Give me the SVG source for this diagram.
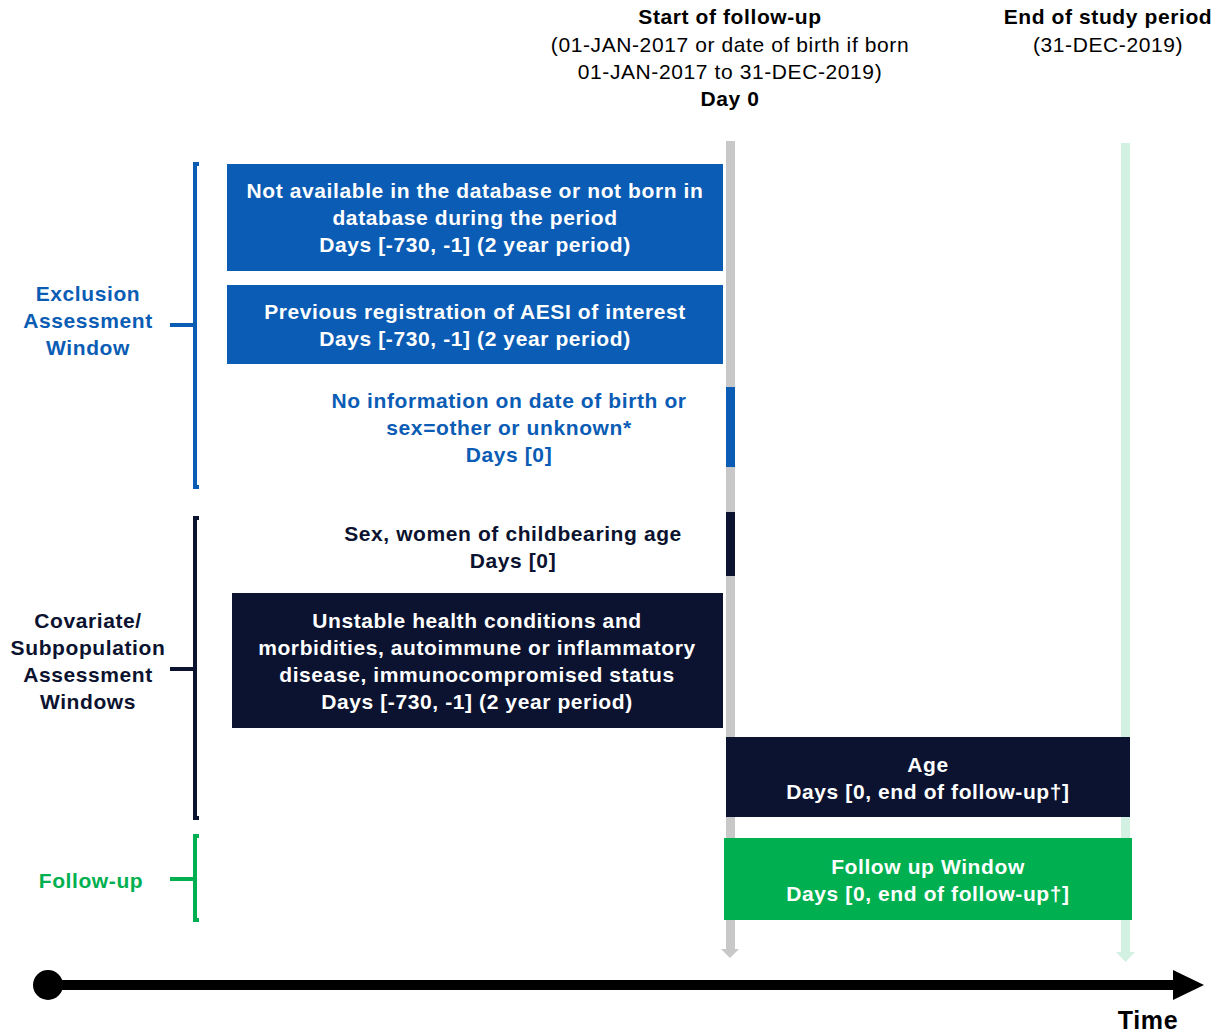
<svg xmlns="http://www.w3.org/2000/svg" width="1222" height="1034" viewBox="0 0 1222 1034">
<style>
text{font-family:"Liberation Sans",Arial,sans-serif;font-size:21px;letter-spacing:0.6px;text-anchor:middle}
.b{font-weight:bold}
.w{fill:#ffffff;font-weight:bold}
.blue{fill:#0a5cb4}
.navy{fill:#0b1330}
.green{fill:#00b050}
.k{fill:#000000}
.br{fill:none;stroke-width:4}
</style>
<rect width="1222" height="1034" fill="#ffffff"/>
<g id="connectors">
  <rect x="726" y="141" width="9" height="808" fill="#c8c8c8"/>
  <polygon points="721,949 739,949 730,958" fill="#c8c8c8"/>
  <rect x="1121" y="143" width="9" height="810" fill="#d2f1e2"/>
  <polygon points="1116,952 1135,952 1125.5,962" fill="#d2f1e2"/>
  <rect x="726" y="387" width="9" height="80" fill="#0a5cb4"/>
  <rect x="726" y="512" width="9" height="64" fill="#0b1330"/>
  <line x1="48" y1="985" x2="1175" y2="985" stroke="#000" stroke-width="10"/>
  <polygon points="1173,970 1204,985 1173,1000" fill="#000"/>
  <circle cx="48" cy="985" r="15" fill="#000"/>
</g>
<g id="header-start">
  <text x="730" y="24" class="b k">Start of follow-up</text>
  <text x="730" y="52" class="k">(01-JAN-2017 or date of birth if born</text>
  <text x="730" y="79" class="k">01-JAN-2017 to 31-DEC-2019)</text>
  <text x="730" y="106" class="b k">Day 0</text>
</g>
<g id="header-end">
  <text x="1108" y="24" class="b k">End of study period</text>
  <text x="1108" y="52" class="k">(31-DEC-2019)</text>
</g>
<g id="bracket-exclusion">
  <path class="br" stroke="#0a5cb4" d="M199,164 H195 V487 H199 M170,325 H195"/>
  <text x="88" y="301" class="b blue">Exclusion</text>
  <text x="88" y="328" class="b blue">Assessment</text>
  <text x="88" y="355" class="b blue">Window</text>
</g>
<g id="bracket-covariate">
  <path class="br" stroke="#0b1330" d="M199,518 H195 V818 H199 M170,669 H195"/>
  <text x="88" y="628" class="b navy">Covariate/</text>
  <text x="88" y="655" class="b navy">Subpopulation</text>
  <text x="88" y="682" class="b navy">Assessment</text>
  <text x="88" y="709" class="b navy">Windows</text>
</g>
<g id="bracket-followup">
  <path class="br" stroke="#00b050" d="M199,836 H195 V920 H199 M170,879 H195"/>
  <text x="91" y="888" class="b green">Follow-up</text>
</g>
<g id="node-not-available">
  <rect x="227" y="164" width="496" height="107" fill="#0a5cb4"/>
  <text x="475" y="198" class="w">Not available in the database or not born in</text>
  <text x="475" y="225" class="w">database during the period</text>
  <text x="475" y="252" class="w">Days [-730, -1] (2 year period)</text>
</g>
<g id="node-previous-aesi">
  <rect x="227" y="285" width="496" height="79" fill="#0a5cb4"/>
  <text x="475" y="319" class="w">Previous registration of AESI of interest</text>
  <text x="475" y="346" class="w">Days [-730, -1] (2 year period)</text>
</g>
<g id="node-no-info">
  <text x="509" y="408" class="b blue">No information on date of birth or</text>
  <text x="509" y="435" class="b blue">sex=other or unknown*</text>
  <text x="509" y="462" class="b blue">Days [0]</text>
</g>
<g id="node-sex">
  <text x="513" y="541" class="b navy">Sex, women of childbearing age</text>
  <text x="513" y="568" class="b navy">Days [0]</text>
</g>
<g id="node-unstable">
  <rect x="232" y="593" width="491" height="135" fill="#0b1330"/>
  <text x="477" y="628" class="w">Unstable health conditions and</text>
  <text x="477" y="655" class="w">morbidities, autoimmune or inflammatory</text>
  <text x="477" y="682" class="w">disease, immunocompromised status</text>
  <text x="477" y="709" class="w">Days [-730, -1] (2 year period)</text>
</g>
<g id="node-age">
  <rect x="726" y="737" width="404" height="80" fill="#0b1330"/>
  <text x="928" y="772" class="w">Age</text>
  <text x="928" y="799" class="w">Days [0, end of follow-up†]</text>
</g>
<g id="node-followup-window">
  <rect x="724" y="838" width="408" height="82" fill="#00b050"/>
  <text x="928" y="874" class="w">Follow up Window</text>
  <text x="928" y="901" class="w">Days [0, end of follow-up†]</text>
</g>
<g id="label-time">
  <text x="1148" y="1029" class="b k" style="font-size:25px">Time</text>
</g>
</svg>
